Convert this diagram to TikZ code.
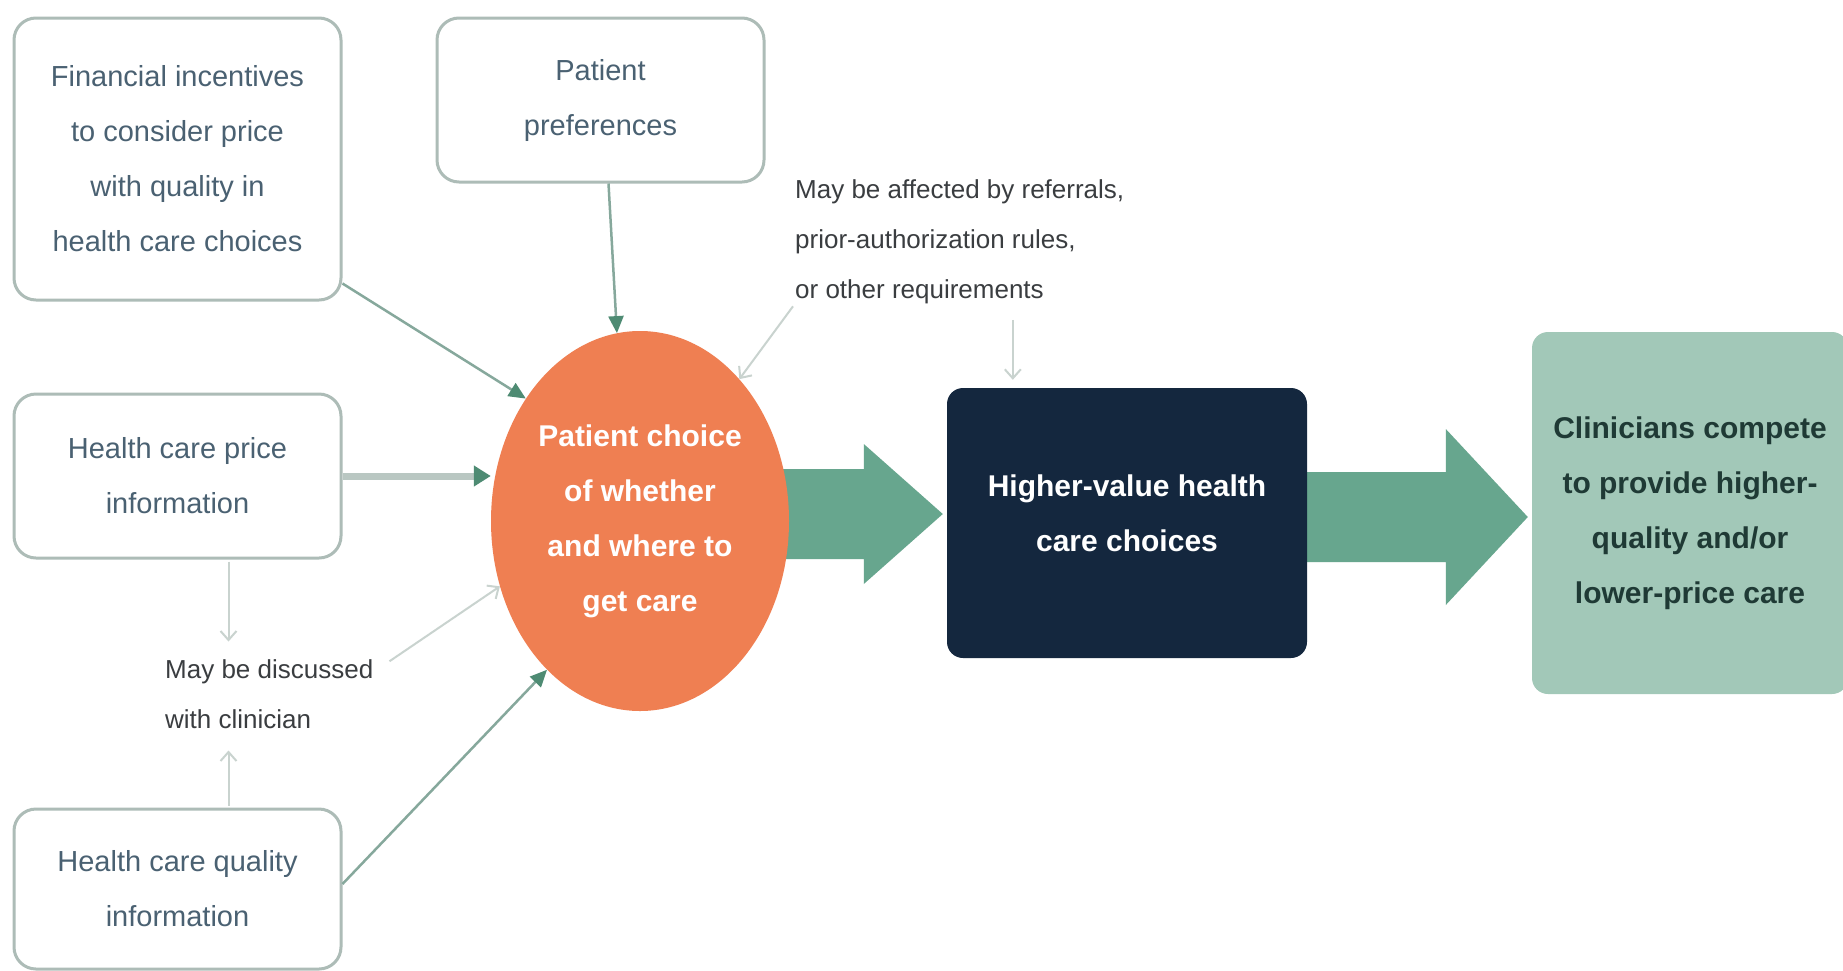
\documentclass[tikz,border=0pt]{standalone}
\usepackage{fontspec}
\setmainfont{Liberation Sans}
\usetikzlibrary{arrows.meta,shapes.geometric,calc,backgrounds}
\definecolor{boxline}{HTML}{ADBCB7}
\definecolor{boxtext}{HTML}{4A6172}
\definecolor{orangec}{HTML}{EF7F52}
\definecolor{navyc}{HTML}{14273E}
\definecolor{greenarrow}{HTML}{67A68E}
\definecolor{lightgreen}{HTML}{A2C8B8}
\definecolor{darkgreentext}{HTML}{1F3A35}
\definecolor{conngreen}{HTML}{86A89C}
\definecolor{pricegray}{HTML}{B9C7C2}
\definecolor{tipgreen}{HTML}{4E8B73}
\definecolor{notegray}{HTML}{C9D3CF}
\definecolor{notetext}{HTML}{3A3D40}
\begin{document}
\begin{tikzpicture}[x=1pt,y=-1pt,
  inbox/.style={rectangle, rounded corners=22pt, draw=boxline, line width=3pt, fill=white, text=boxtext, align=center, font=\fontsize{29}{55}\selectfont, minimum width=327pt},
  boldtext/.style={align=center, font=\bfseries\fontsize{30}{55}\selectfont},
  note/.style={align=left, text=notetext, font=\fontsize{26}{50}\selectfont, inner sep=2pt},
  conn/.style={draw=conngreen, line width=2.5pt, -{Triangle[length=17pt,width=15pt,color=tipgreen]}},
  thickconn/.style={draw=pricegray, line width=7pt, -{Triangle[length=17pt,width=20pt,color=tipgreen]}},
  noteconn/.style={draw=notegray, line width=2pt, -{Straight Barb[length=9pt,width=16pt]}},
  bigarrow/.style={fill=greenarrow}
]
\clip (0,0) rectangle (1843,970);

% boxes
\node[inbox, minimum height=282pt] (fin) at (177.5,159) {Financial incentives\\to consider price\\with quality in\\health care choices};
\node[inbox, minimum height=164pt] (pref) at (600.5,100) {Patient\\preferences};
\node[inbox, minimum height=164pt] (price) at (177.5,476) {Health care price\\information};
\node[inbox, minimum height=160pt] (qual) at (177.5,889) {Health care quality\\information};

\node[ellipse, fill=orangec, minimum width=298pt, minimum height=380pt, inner sep=0pt, text=white, boldtext] (ell) at (640,521) {Patient choice\\of whether\\and where to\\get care};

\node[rectangle, rounded corners=16pt, fill=navyc, minimum width=360pt, minimum height=270pt] (dark) at (1127,523) {};
\node[text=white, boldtext] (darkt) at ($(dark.center)+(0,-10)$) {Higher-value health\\care choices};

\node[rectangle, rounded corners=16pt, fill=lightgreen, minimum width=316pt, minimum height=362pt, text=darkgreentext, boldtext] (comp) at (1690,513) {Clinicians compete\\to provide higher-\\quality and/or\\lower-price care};

% notes
\node[note, anchor=west] (aff) at (793,242) {May be affected by referrals,\\prior-authorization rules,\\or other requirements};
\node[note, anchor=west] (disc) at (163,694) {May be discussed\\with clinician};

% big arrows
\coordinate (a1t) at ($(dark.west)+(-4,-9)$);
\coordinate (a1s) at (ell.center |- a1t);
\coordinate (a2t) at ($(comp.west)+(-4,4)$);
\coordinate (a2s) at (dark.center |- a2t);
\begin{scope}[on background layer]
\fill[white] (0,0) rectangle (1843,970);
\fill[bigarrow] ($(a1s)+(0,-45)$) -- ($(a1t)+(-79,-45)$) -- ($(a1t)+(-79,-70)$) -- (a1t) -- ($(a1t)+(-79,70)$) -- ($(a1t)+(-79,45)$) -- ($(a1s)+(0,45)$) -- cycle;
\fill[bigarrow] ($(a2s)+(0,-45)$) -- ($(a2t)+(-82,-45)$) -- ($(a2t)+(-82,-88)$) -- (a2t) -- ($(a2t)+(-82,88)$) -- ($(a2t)+(-82,45)$) -- ($(a2s)+(0,45)$) -- cycle;
\end{scope}

% connectors into the ellipse
\draw[conn] ($(fin.south east)+(0,-18)$) -- (ell.133);
\draw[conn] ($(pref.south)+(8,0)$) -- (ell.97);
\draw[thickconn] (price.east) -- (price.east -| ell.west);
\draw[conn] ($(qual.east)+(0,-5)$) -- (ell.238);

% note connectors
\draw[noteconn] (aff.south west) -- (ell.55);
\draw[noteconn] ($(dark.north west)+(66,-68)$) -- ($(dark.north west)+(66,-8)$);
\draw[noteconn] ($(price.south)+(51,2)$) -- ($(price.south)+(51,82)$);
\draw[noteconn] ($(qual.north)+(51,-2)$) -- ($(qual.north)+(51,-57)$);
\draw[noteconn] ($(disc.north east)+(14,4)$) -- (ell.205);
\end{tikzpicture}
\end{document}
